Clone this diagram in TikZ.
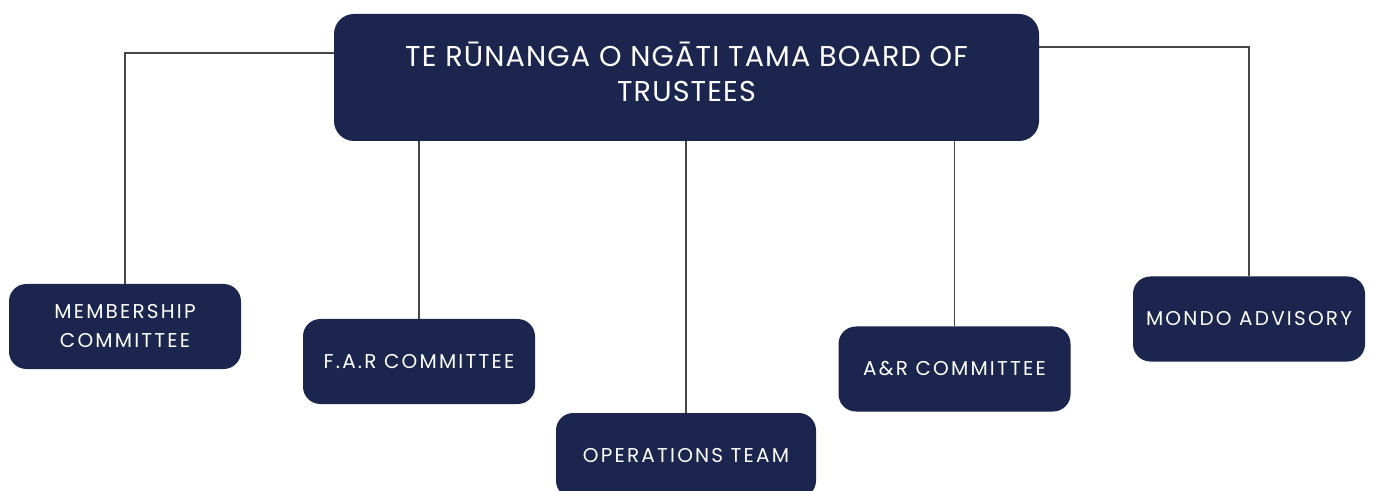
\documentclass[tikz,border=0pt]{standalone}
\usepackage{fontspec}
\setmainfont[LetterSpace=11]{Poppins}
\newfontfamily\boardfont[LetterSpace=4]{Poppins}
\definecolor{navy}{RGB}{27,37,77}
\definecolor{wire}{RGB}{70,70,70}
\begin{document}
\begin{tikzpicture}[x=0.75pt,y=-0.75pt,
  unit/.style={fill=navy,text=white,rounded corners=13pt,align=center,font=\fontsize{15}{21.75}\selectfont,minimum width=174pt,minimum height=63.75pt,inner sep=0pt},
  link/.style={draw=wire,line width=0.9pt}]
\clip (0,0) rectangle (1373,491);
\useasboundingbox (0,0) rectangle (1373,491);
\node[unit,rounded corners=15pt,minimum width=528.75pt,minimum height=95.25pt,text depth=9pt,font=\boardfont\fontsize{21.5}{26.25}\selectfont] (board) at (686.5,77.5) {TE RŪNANGA O NGĀTI TAMA BOARD OF\\TRUSTEES};
\node[unit] (member) at (125,326.5) {MEMBERSHIP\\COMMITTEE};
\node[unit] (far) at (419,361.5) {F.A.R COMMITTEE};
\node[unit,minimum width=195pt] (ops) at (686,455.5) {OPERATIONS TEAM};
\node[unit] (ar) at (954.5,369) {A\&R COMMITTEE};
\node[unit] (mondo) at (1249,319) {MONDO ADVISORY};
\draw[link] ([yshift=18.4pt]board.west) -| (member.north);
\draw[link] ([yshift=22.9pt]board.east) -| (mondo.north);
\draw[link] (board.south -| far.north) -- (far.north);
\draw[link] (board.south -| ops.north) -- (ops.north);
\draw[link] (board.south -| ar.north) -- (ar.north);
\end{tikzpicture}
\end{document}
